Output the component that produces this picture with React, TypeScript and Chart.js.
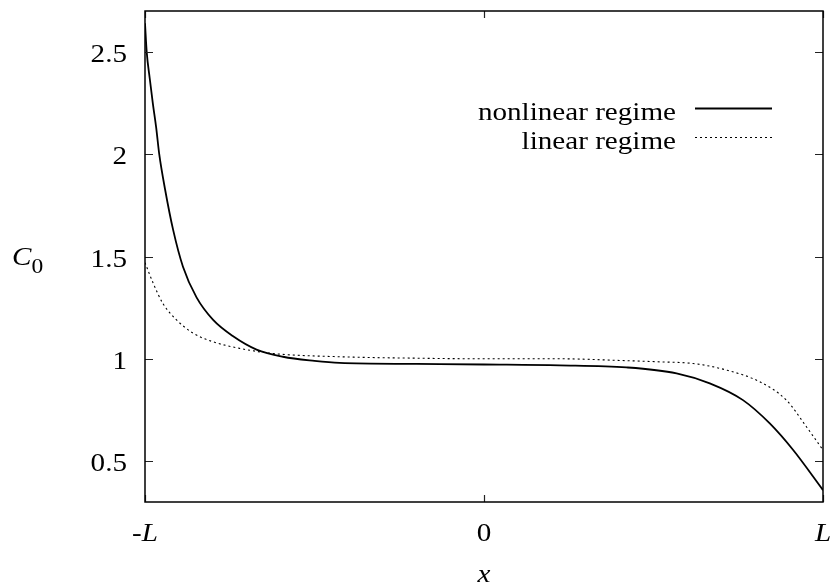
import { useEffect, useRef } from "react";
import { Chart, registerables } from "chart.js";

Chart.register(...registerables);

// ---- data ----
const xNonlinear = [-1.0, -0.995, -0.986, -0.977, -0.967, -0.958, -0.941, -0.917, -0.888, -0.848, -0.799, -0.74, -0.671, -0.593, -0.5, -0.426, -0.2, 0.0, 0.223, 0.42, 0.568, 0.666, 0.764, 0.843, 0.912, 1.0];
const yNonlinear = [2.64, 2.5, 2.37, 2.25, 2.13, 2.0, 1.83, 1.63, 1.45, 1.3, 1.19, 1.11, 1.045, 1.01, 0.99, 0.98, 0.975, 0.972, 0.968, 0.958, 0.929, 0.88, 0.798, 0.684, 0.554, 0.358];

const xLinear = [-1.0, -0.976, -0.947, -0.907, -0.858, -0.799, -0.721, -0.623, -0.426, -0.2, 0.0, 0.223, 0.4, 0.518, 0.617, 0.715, 0.813, 0.892, 0.951, 1.0];
const yLinear = [1.47, 1.37, 1.27, 1.19, 1.125, 1.083, 1.051, 1.026, 1.01, 1.003, 1.0, 1.0, 0.992, 0.985, 0.977, 0.945, 0.888, 0.798, 0.668, 0.554];

const seriesNames = ["nonlinear regime", "linear regime"];
const xTicks = [-1, 0, 1];
const xTickLabels = ["-L", "0", "L"];
const yTicks = [0.5, 1, 1.5, 2, 2.5];
const yTickLabels = ["0.5", "1", "1.5", "2", "2.5"];
const xTitle = "x";
const yTitle = "C";
const yTitleSub = "0";

const FONT = '"Liberation Serif", Tinos, "Times New Roman", Times, serif';
const FS = 26;
const STRETCH = 1.12;

function drawText(
  ctx: CanvasRenderingContext2D,
  text: string,
  x: number,
  y: number,
  align: CanvasTextAlign,
  font: string
) {
  ctx.save();
  ctx.font = font;
  ctx.textAlign = align;
  ctx.textBaseline = "alphabetic";
  ctx.fillStyle = "#000";
  ctx.translate(x, y);
  ctx.scale(STRETCH, 1);
  ctx.fillText(text, 0, 0);
  ctx.restore();
}

function measure(ctx: CanvasRenderingContext2D, text: string, font: string) {
  ctx.save();
  ctx.font = font;
  const w = ctx.measureText(text).width * STRETCH;
  ctx.restore();
  return w;
}

// draw label with "L" italic, rest upright, centred at x
function drawMixedLabel(ctx: CanvasRenderingContext2D, label: string, cx: number, y: number) {
  const upright = `${FS}px ${FONT}`;
  const italic = `italic ${FS}px ${FONT}`;
  const parts: { t: string; f: string }[] = [];
  for (const ch of label) {
    parts.push({ t: ch, f: ch === "L" ? italic : upright });
  }
  const total = parts.reduce((s, p) => s + measure(ctx, p.t, p.f), 0);
  let x = cx - total / 2;
  for (const p of parts) {
    drawText(ctx, p.t, x, y, "left", p.f);
    x += measure(ctx, p.t, p.f);
  }
}

const gnuplotPlugin = {
  id: "gnuplotDecor",
  afterDatasetsDraw(chart: any) {
    const { ctx, chartArea } = chart;
    const { left, right, top, bottom } = chartArea;
    const xs = chart.scales.x;
    const ys = chart.scales.y;
    const upright = `${FS}px ${FONT}`;
    const italic = `italic ${FS}px ${FONT}`;

    ctx.save();
    // ticks (inward, mirrored)
    ctx.strokeStyle = "#222";
    ctx.lineWidth = 1.2;
    ctx.beginPath();
    yTicks.forEach((v) => {
      const py = Math.round(ys.getPixelForValue(v)) + 0.5;
      ctx.moveTo(left, py);
      ctx.lineTo(left + 8, py);
      ctx.moveTo(right, py);
      ctx.lineTo(right - 8, py);
    });
    xTicks.forEach((v) => {
      const px = Math.round(xs.getPixelForValue(v)) + 0.5;
      ctx.moveTo(px, bottom);
      ctx.lineTo(px, bottom - 7);
      ctx.moveTo(px, top);
      ctx.lineTo(px, top + 7);
    });
    ctx.stroke();

    // frame
    ctx.strokeStyle = "#000";
    ctx.lineWidth = 1.5;
    ctx.strokeRect(left, top, right - left, bottom - top);
    ctx.restore();

    // y tick labels
    yTicks.forEach((v, i) => {
      const py = ys.getPixelForValue(v);
      drawText(ctx, yTickLabels[i], left - 18, py + 10, "right", upright);
    });
    // x tick labels
    xTicks.forEach((v, i) => {
      const px = xs.getPixelForValue(v);
      drawMixedLabel(ctx, xTickLabels[i], px, bottom + 39);
    });

    // axis titles
    drawText(ctx, xTitle, (left + right) / 2, 582, "center", italic);
    const cy = (top + bottom) / 2 + 8;
    drawText(ctx, yTitle, 12, cy, "left", italic);
    const cw = measure(ctx, yTitle, italic);
    drawText(ctx, yTitleSub, 12 + cw, cy + 8, "left", `${Math.round(FS * 0.82)}px ${FONT}`);

    // legend
    const textRight = 676;
    const lineX0 = 695;
    const lineX1 = 772;
    const rows = [
      { y: 108, dash: [] as number[], w: 1.8 },
      { y: 137, dash: [2, 3], w: 1.1 },
    ];
    rows.forEach((r, i) => {
      drawText(ctx, seriesNames[i], textRight, r.y + 11.5, "right", upright);
      ctx.save();
      ctx.strokeStyle = "#000";
      ctx.lineWidth = r.w;
      ctx.setLineDash(r.dash);
      ctx.beginPath();
      ctx.moveTo(lineX0, r.y + 0.5);
      ctx.lineTo(lineX1, r.y + 0.5);
      ctx.stroke();
      ctx.restore();
    });
  },
};

export default function App() {
  const canvasRef = useRef<HTMLCanvasElement | null>(null);

  useEffect(() => {
    const canvas = canvasRef.current;
    if (!canvas) return;
    const chart = new Chart(canvas, {
      type: "line",
      data: {
        datasets: [
          {
            label: seriesNames[0],
            data: xNonlinear.map((x, i) => ({ x, y: yNonlinear[i] })),
            borderColor: "#000",
            borderWidth: 1.8,
            pointRadius: 0,
            cubicInterpolationMode: "monotone",
            fill: false,
          },
          {
            label: seriesNames[1],
            data: xLinear.map((x, i) => ({ x, y: yLinear[i] })),
            borderColor: "#000",
            borderWidth: 1.1,
            borderDash: [2, 3],
            pointRadius: 0,
            cubicInterpolationMode: "monotone",
            fill: false,
          },
        ],
      },
      options: {
        responsive: false,
        animation: false,
        devicePixelRatio: 1,
        layout: { padding: { left: 145, top: 11, right: 10, bottom: 82 } },
        plugins: { legend: { display: false }, tooltip: { enabled: false } },
        scales: {
          x: { type: "linear", min: -1, max: 1, display: false },
          y: { type: "linear", min: 0.3, max: 2.7, display: false },
        },
      },
      plugins: [gnuplotPlugin],
    } as any);
    let alive = true;
    const redraw = () => {
      if (alive) chart.draw();
    };
    const fs: any = (document as any).fonts;
    if (fs && fs.load) {
      Promise.all([
        fs.load(`${FS}px "Liberation Serif"`),
        fs.load(`italic ${FS}px "Liberation Serif"`),
      ]).then(redraw, redraw);
      fs.ready?.then(redraw);
    }
    const t = setTimeout(redraw, 150);
    return () => {
      alive = false;
      clearTimeout(t);
      chart.destroy();
    };
  }, []);

  return (
    <div style={{ position: "absolute", left: 0, top: 0, width: 833, height: 584, background: "#fff" }}>
      <span
        style={{
          position: "absolute",
          left: 0,
          top: 0,
          opacity: 0,
          fontFamily: FONT,
          fontSize: FS,
          pointerEvents: "none",
        }}
      >
        C <i>L</i>
      </span>
      <canvas ref={canvasRef} width={833} height={584} style={{ display: "block", position: "relative", width: 833, height: 584 }} />
    </div>
  );
}
